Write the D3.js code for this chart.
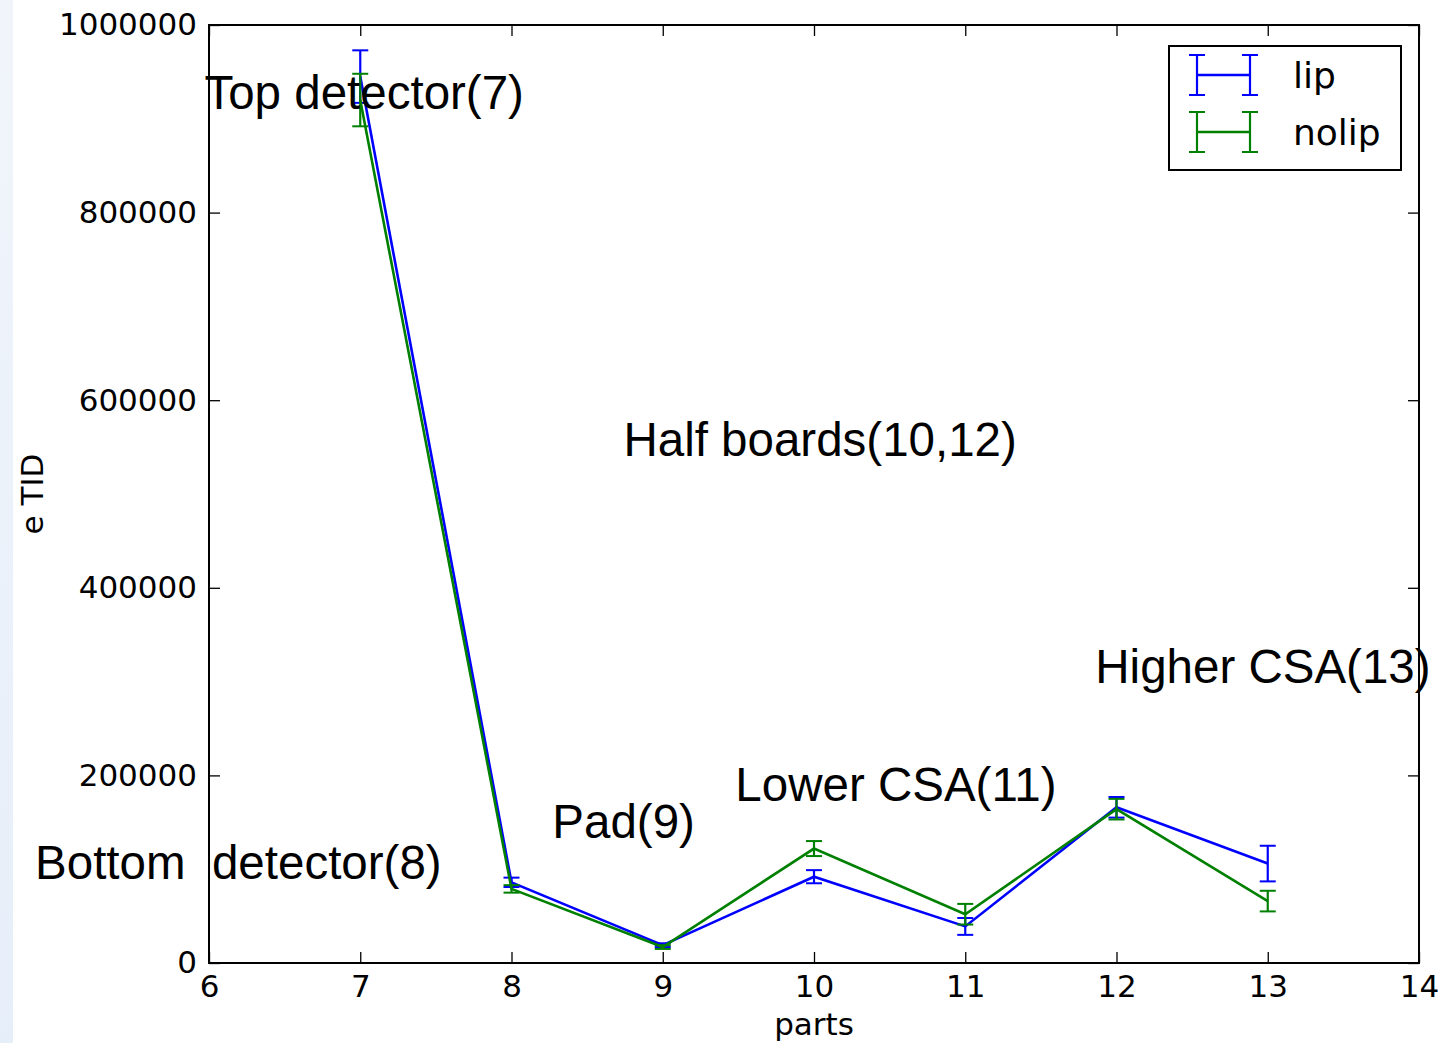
<!DOCTYPE html>
<html>
<head>
<meta charset="utf-8">
<script src="https://cdn.jsdelivr.net/npm/d3@7"></script>
<style>
  html, body { margin: 0; padding: 0; background: #ffffff; }
  svg { display: block; }
</style>
</head>
<body>
<script>
// ---- data ----
const parts = [7, 8, 9, 10, 11, 12, 13];
const lipValues = [945000, 86000, 19000, 92000, 39000, 166000, 106000];
const lipErrors = [28000, 5000, 2000, 7000, 9000, 11000, 19000];
const nolipValues = [920000, 79000, 17000, 122000, 52000, 164000, 66000];
const nolipErrors = [28000, 4000, 2000, 8000, 11000, 11000, 11000];
const xTicks = [6, 7, 8, 9, 10, 11, 12, 13, 14];
const yTicks = [0, 200000, 400000, 600000, 800000, 1000000];
const seriesNames = ["lip", "nolip"];
const seriesColors = ["#0000ff", "#008000"];
const annotations = [
  { text: "Top detector(7)", x: 5.97, y: 910000 },
  { text: "Bottom  detector(8)", x: 4.85, y: 90000 },
  { text: "Pad(9)", x: 8.27, y: 133000 },
  { text: "Lower CSA(11)", x: 9.48, y: 173000 },
  { text: "Half boards(10,12)", x: 8.74, y: 541000 },
  { text: "Higher CSA(13)", x: 11.86, y: 299000 }
];

const W = 1439, H = 1043;
const margin = { left: 209, right: W - 1419, top: 25, bottom: H - 963 };
const svg = d3.select("body").append("svg").attr("width", W).attr("height", H);

// left edge light strip
const defs = svg.append("defs");
const grad = defs.append("linearGradient").attr("id", "edge").attr("x1", 0).attr("x2", 0).attr("y1", 0).attr("y2", 1);
grad.append("stop").attr("offset", "0%").attr("stop-color", "#f1f5fb");
grad.append("stop").attr("offset", "100%").attr("stop-color", "#e6eef9");
svg.append("rect").attr("x", 0).attr("y", 0).attr("width", 13).attr("height", H).attr("fill", "url(#edge)");

const x = d3.scaleLinear().domain([6, 14]).range([margin.left, W - margin.right]);
const y = d3.scaleLinear().domain([0, 1000000]).range([H - margin.bottom, margin.top]);

const tickFont = "'DejaVu Sans', sans-serif";
const annFont = "'Liberation Sans', Arial, sans-serif";
const tickLen = 11;

// axes (ticks inward on all sides)
const axBottom = d3.axisBottom(x).tickValues(xTicks).tickSize(-tickLen).tickPadding(12).tickFormat(d3.format("d"));
const axTop = d3.axisTop(x).tickValues(xTicks).tickSize(-tickLen).tickFormat("");
const axLeft = d3.axisLeft(y).tickValues(yTicks).tickSize(-tickLen).tickPadding(12).tickFormat(d3.format("d"));
const axRight = d3.axisRight(y).tickValues(yTicks).tickSize(-tickLen).tickFormat("");

function styleAxis(g) {
  g.select(".domain").remove();
  g.selectAll(".tick line").attr("stroke", "#000").attr("stroke-width", 1.3);
  g.selectAll("text").attr("fill", "#000").style("font-family", tickFont).style("font-size", "31px");
}
svg.append("g").attr("transform", `translate(0,${y(0)})`).call(axBottom).call(styleAxis);
svg.append("g").attr("transform", `translate(0,${y(1000000)})`).call(axTop).call(styleAxis);
svg.append("g").attr("transform", `translate(${x(6)},0)`).call(axLeft).call(styleAxis);
svg.append("g").attr("transform", `translate(${x(14)},0)`).call(axRight).call(styleAxis);

// axis labels
svg.append("text").attr("x", x(10)).attr("y", 1035).attr("text-anchor", "middle")
  .style("font-family", tickFont).style("font-size", "31px").text("parts");
svg.append("text").attr("transform", `translate(43,${y(500000)}) rotate(-90)`).attr("text-anchor", "middle")
  .style("font-family", tickFont).style("font-size", "31px").text("e TID");

// series
const series = [
  { name: seriesNames[0], color: seriesColors[0], values: lipValues, errors: lipErrors },
  { name: seriesNames[1], color: seriesColors[1], values: nolipValues, errors: nolipErrors }
];
const line = d3.line().x(d => x(d.x)).y(d => y(d.v));
const capHalf = 8;
series.forEach(s => {
  const pts = parts.map((p, i) => ({ x: p, v: s.values[i], e: s.errors[i] }));
  const g = svg.append("g");
  g.append("path").datum(pts).attr("d", line).attr("fill", "none").attr("stroke", s.color).attr("stroke-width", 2.6);
  const eb = g.selectAll("g.eb").data(pts).enter().append("g");
  eb.append("line").attr("x1", d => x(d.x)).attr("x2", d => x(d.x))
    .attr("y1", d => y(d.v + d.e)).attr("y2", d => y(d.v - d.e)).attr("stroke", s.color).attr("stroke-width", 2.2);
  [1, -1].forEach(sg => {
    eb.append("line").attr("x1", d => x(d.x) - capHalf).attr("x2", d => x(d.x) + capHalf)
      .attr("y1", d => y(d.v + sg * d.e)).attr("y2", d => y(d.v + sg * d.e)).attr("stroke", s.color).attr("stroke-width", 2);
  });
});

// frame
svg.append("rect").attr("x", x(6)).attr("y", y(1000000)).attr("width", x(14) - x(6)).attr("height", y(0) - y(1000000))
  .attr("fill", "none").attr("stroke", "#000").attr("stroke-width", 2);

// annotations
svg.selectAll("text.ann").data(annotations).enter().append("text").attr("class", "ann")
  .attr("x", d => x(d.x)).attr("y", d => y(d.y))
  .style("font-family", annFont).style("font-size", "47.5px").attr("fill", "#000")
  .attr("xml:space", "preserve").style("white-space", "pre")
  .text(d => d.text);

// legend
const lg = svg.append("g");
lg.append("rect").attr("x", 1169).attr("y", 46).attr("width", 232).attr("height", 124)
  .attr("fill", "#fff").attr("stroke", "#000").attr("stroke-width", 2);
series.forEach((s, i) => {
  const cy = 75 + i * 57;
  const x0 = 1197, x1 = 1250, hh = 20;
  lg.append("line").attr("x1", x0).attr("x2", x1).attr("y1", cy).attr("y2", cy).attr("stroke", s.color).attr("stroke-width", 2.6);
  [x0, x1].forEach(xx => {
    lg.append("line").attr("x1", xx).attr("x2", xx).attr("y1", cy - hh).attr("y2", cy + hh).attr("stroke", s.color).attr("stroke-width", 2.2);
    [-hh, hh].forEach(dy => lg.append("line").attr("x1", xx - capHalf).attr("x2", xx + capHalf)
      .attr("y1", cy + dy).attr("y2", cy + dy).attr("stroke", s.color).attr("stroke-width", 2));
  });
  lg.append("text").attr("x", 1293).attr("y", cy + 13).style("font-family", tickFont).style("font-size", "36px")
    .attr("fill", "#000").text(s.name);
});
</script>
</body>
</html>
